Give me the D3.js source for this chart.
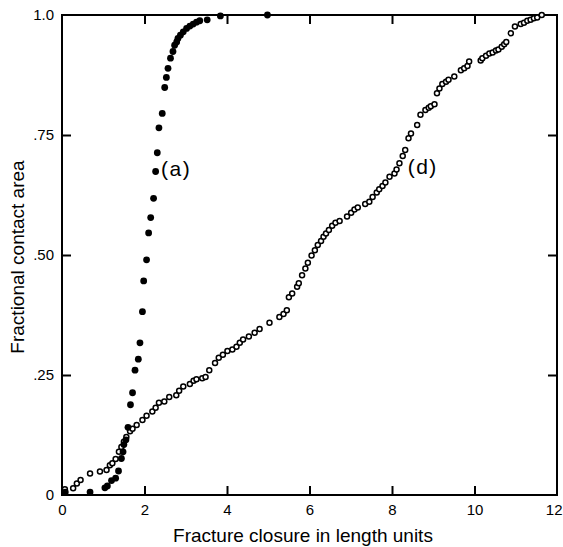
<!DOCTYPE html>
<html>
<head>
<meta charset="utf-8">
<script src="https://cdn.jsdelivr.net/npm/d3@7"></script>
<style>
  html, body { margin: 0; padding: 0; background: #fff; }
  svg { display: block; }
  text { font-family: "Liberation Sans", "DejaVu Sans", sans-serif; fill: #000; }
</style>
</head>
<body>
<svg id="chart" width="563" height="547"></svg>
<script>
// ---- data ----
const xTicks = [0, 2, 4, 6, 8, 10, 12];
const yTicks = [0, 0.25, 0.5, 0.75, 1.0];
const yTickLabels = ["0", ".25", ".50", ".75", "1.0"];
const xTitle = "Fracture closure in length units";
const yTitle = "Fractional contact area";

// series (a): filled dots
const aX = [0.08, 0.68, 1.04, 1.10, 1.20, 1.30, 1.37, 1.44, 1.48, 1.50, 1.55, 1.60, 1.66, 1.71, 1.77, 1.85, 1.89, 1.95, 1.98, 2.05, 2.10, 2.15, 2.22, 2.27, 2.31, 2.35, 2.43, 2.49, 2.53, 2.57, 2.63, 2.69, 2.73, 2.78, 2.81, 2.87, 2.94, 3.02, 3.10, 3.18, 3.26, 3.34, 3.52, 3.84, 4.98];
const aY = [0.006, 0.006, 0.015, 0.019, 0.030, 0.035, 0.050, 0.076, 0.090, 0.105, 0.115, 0.141, 0.188, 0.213, 0.260, 0.283, 0.317, 0.382, 0.446, 0.490, 0.546, 0.578, 0.618, 0.674, 0.713, 0.765, 0.795, 0.849, 0.870, 0.889, 0.910, 0.924, 0.937, 0.944, 0.951, 0.958, 0.965, 0.972, 0.977, 0.981, 0.985, 0.988, 0.990, 0.998, 1.000];

// series (d): open circles
const dX = [0.07, 0.27, 0.36, 0.45, 0.68, 0.92, 1.08, 1.16, 1.22, 1.30, 1.38, 1.44, 1.50, 1.56, 1.65, 1.71, 1.81, 1.95, 2.05, 2.19, 2.27, 2.35, 2.48, 2.60, 2.77, 2.84, 2.94, 3.10, 3.19, 3.26, 3.40, 3.48, 3.57, 3.71, 3.80, 3.90, 4.01, 4.13, 4.23, 4.31, 4.39, 4.53, 4.67, 4.79, 5.03, 5.27, 5.37, 5.45, 5.50, 5.58, 5.70, 5.74, 5.82, 5.90, 5.96, 6.05, 6.13, 6.20, 6.28, 6.34, 6.40, 6.47, 6.55, 6.63, 6.73, 6.91, 7.01, 7.09, 7.17, 7.35, 7.45, 7.53, 7.63, 7.69, 7.77, 7.84, 7.94, 8.06, 8.11, 8.18, 8.26, 8.32, 8.40, 8.46, 8.61, 8.69, 8.81, 8.89, 8.94, 9.03, 9.09, 9.15, 9.22, 9.31, 9.37, 9.51, 9.67, 9.75, 9.83, 9.87, 10.15, 10.19, 10.28, 10.36, 10.44, 10.52, 10.58, 10.66, 10.72, 10.77, 10.88, 10.98, 11.12, 11.20, 11.28, 11.36, 11.44, 11.52, 11.63];
const dY = [0.012, 0.014, 0.024, 0.031, 0.045, 0.049, 0.052, 0.062, 0.066, 0.075, 0.090, 0.100, 0.111, 0.121, 0.133, 0.138, 0.146, 0.156, 0.165, 0.174, 0.182, 0.192, 0.195, 0.204, 0.208, 0.217, 0.226, 0.231, 0.238, 0.241, 0.243, 0.246, 0.260, 0.275, 0.286, 0.292, 0.300, 0.303, 0.309, 0.317, 0.324, 0.330, 0.338, 0.346, 0.359, 0.371, 0.377, 0.385, 0.412, 0.420, 0.434, 0.441, 0.458, 0.472, 0.484, 0.499, 0.510, 0.521, 0.529, 0.538, 0.545, 0.552, 0.561, 0.567, 0.571, 0.580, 0.588, 0.595, 0.599, 0.606, 0.611, 0.621, 0.630, 0.637, 0.644, 0.651, 0.663, 0.670, 0.678, 0.691, 0.706, 0.719, 0.743, 0.753, 0.771, 0.792, 0.802, 0.807, 0.810, 0.814, 0.837, 0.847, 0.856, 0.861, 0.865, 0.872, 0.885, 0.889, 0.894, 0.903, 0.905, 0.910, 0.915, 0.920, 0.922, 0.926, 0.928, 0.934, 0.939, 0.944, 0.962, 0.976, 0.981, 0.984, 0.988, 0.990, 0.993, 0.995, 1.000];

const seriesLabels = [
  { text: "(a)", x: 2.4, y: 0.68 },
  { text: "(d)", x: 8.38, y: 0.685 }
];

(function () {
  const svg = d3.select("#chart");
  const mL = 62, mR = 557, mT = 15, mB = 495;
  const x = d3.scaleLinear().domain([0, 12]).range([mL, mR]);
  const y = d3.scaleLinear().domain([0, 1]).range([mB, mT]);
  const tick = 9;

  // frame
  svg.append("rect")
    .attr("x", mL).attr("y", mT)
    .attr("width", mR - mL).attr("height", mB - mT)
    .attr("fill", "none").attr("stroke", "#000").attr("stroke-width", 2);

  const innerY = yTicks.slice(1, -1);
  const innerX = xTicks.slice(1, -1);

  // bottom axis labels
  const gB = svg.append("g").attr("transform", `translate(0,${mB})`)
    .call(d3.axisBottom(x).tickValues(xTicks).tickSize(0).tickPadding(9).tickFormat(d3.format("d")));
  gB.select(".domain").remove();
  gB.selectAll("text").attr("font-size", 15);
  // keep the last label inside the page, as in the reference
  gB.selectAll(".tick").filter(d => d === xTicks[xTicks.length - 1])
    .select("text").attr("text-anchor", "end").attr("dx", 5);
  // bottom ticks inward
  svg.append("g").attr("transform", `translate(0,${mB})`)
    .call(d3.axisTop(x).tickValues(innerX).tickSize(tick).tickFormat(""))
    .call(g => g.select(".domain").remove())
    .selectAll("line").attr("stroke-width", 2);
  // top ticks inward
  svg.append("g").attr("transform", `translate(0,${mT})`)
    .call(d3.axisBottom(x).tickValues(innerX).tickSize(tick).tickFormat(""))
    .call(g => g.select(".domain").remove())
    .selectAll("line").attr("stroke-width", 2);

  // left axis labels
  const gL = svg.append("g").attr("transform", `translate(${mL},0)`)
    .call(d3.axisLeft(y).tickValues(yTicks).tickSize(0).tickPadding(8)
      .tickFormat((d, i) => yTickLabels[i]));
  gL.select(".domain").remove();
  gL.selectAll("text").attr("font-size", 15);
  // left / right ticks inward
  svg.append("g").attr("transform", `translate(${mL},0)`)
    .call(d3.axisRight(y).tickValues(innerY).tickSize(tick).tickFormat(""))
    .call(g => g.select(".domain").remove())
    .selectAll("line").attr("stroke-width", 2);
  svg.append("g").attr("transform", `translate(${mR},0)`)
    .call(d3.axisLeft(y).tickValues(innerY).tickSize(tick).tickFormat(""))
    .call(g => g.select(".domain").remove())
    .selectAll("line").attr("stroke-width", 2);

  // titles
  svg.append("text")
    .attr("x", 303).attr("y", 542)
    .attr("text-anchor", "middle").attr("font-size", 19)
    .text(xTitle);
  svg.append("text")
    .attr("transform", "translate(24,257) rotate(-90)")
    .attr("text-anchor", "middle").attr("font-size", 19)
    .text(yTitle);

  // series (d) open circles
  svg.append("g").selectAll("circle")
    .data(dX.map((v, i) => [v, dY[i]]))
    .join("circle")
    .attr("cx", d => x(d[0])).attr("cy", d => y(d[1]))
    .attr("r", 2.5)
    .attr("fill", "#fff").attr("stroke", "#000").attr("stroke-width", 1.5);

  // series (a) filled dots
  svg.append("g").selectAll("circle")
    .data(aX.map((v, i) => [v, aY[i]]))
    .join("circle")
    .attr("cx", d => x(d[0])).attr("cy", d => y(d[1]))
    .attr("r", 3.4)
    .attr("fill", "#000");

  // series labels
  svg.append("g").selectAll("text")
    .data(seriesLabels)
    .join("text")
    .attr("x", d => x(d.x)).attr("y", d => y(d.y))
    .attr("dy", "0.35em")
    .attr("font-size", 21)
    .attr("letter-spacing", 1.5)
    .text(d => d.text);
})();
</script>
</body>
</html>
